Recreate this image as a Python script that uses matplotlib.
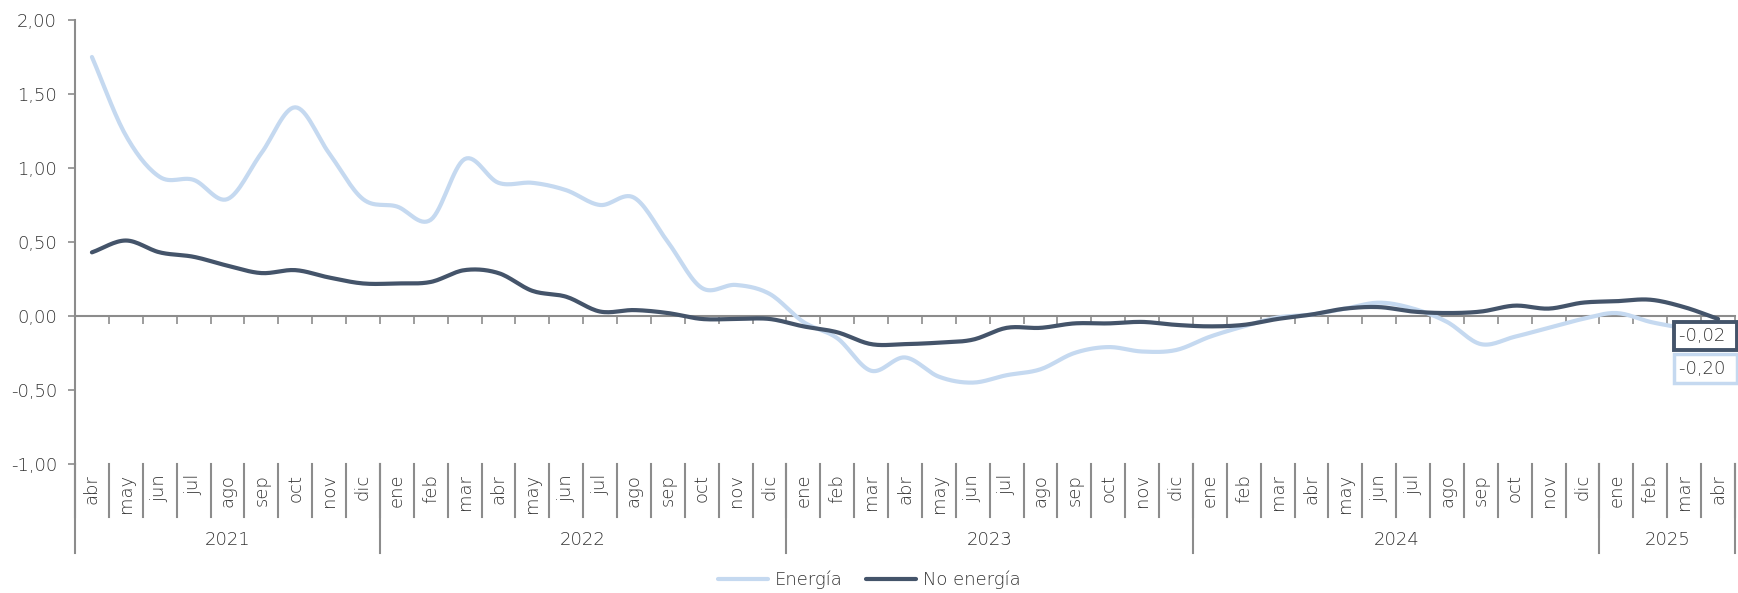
import numpy as np
import matplotlib
matplotlib.use("Agg")
import matplotlib.pyplot as plt
from matplotlib.transforms import blended_transform_factory

plt.rcParams['font.family'] = ['DejaVu Sans']
plt.rcParams['font.weight'] = 'light'

months = ["abr", "may", "jun", "jul", "ago", "sep", "oct", "nov", "dic",
          "ene", "feb", "mar", "abr", "may", "jun", "jul", "ago", "sep", "oct", "nov", "dic",
          "ene", "feb", "mar", "abr", "may", "jun", "jul", "ago", "sep", "oct", "nov", "dic",
          "ene", "feb", "mar", "abr", "may", "jun", "jul", "ago", "sep", "oct", "nov", "dic",
          "ene", "feb", "mar", "abr"]
years = ["2021", "2022", "2023", "2024", "2025"]
months_per_year = [9, 12, 12, 12, 4]

energia = [1.75, 1.22, 0.94, 0.92, 0.79, 1.10, 1.41, 1.10, 0.79,
           0.74, 0.65, 1.06, 0.90, 0.90, 0.85, 0.75, 0.80, 0.50, 0.19, 0.21, 0.15,
           -0.04, -0.15, -0.37, -0.28, -0.41, -0.45, -0.40, -0.36, -0.25, -0.21, -0.24, -0.23,
           -0.14, -0.07, -0.01, 0.01, 0.05, 0.09, 0.05, -0.04, -0.19, -0.14, -0.08, -0.02,
           0.02, -0.04, -0.09, -0.20]
no_energia = [0.43, 0.51, 0.43, 0.40, 0.34, 0.29, 0.31, 0.26, 0.22,
              0.22, 0.23, 0.31, 0.29, 0.17, 0.13, 0.03, 0.04, 0.02, -0.02, -0.02, -0.02,
              -0.07, -0.11, -0.19, -0.19, -0.18, -0.16, -0.08, -0.08, -0.05, -0.05, -0.04, -0.06,
              -0.07, -0.06, -0.02, 0.01, 0.05, 0.06, 0.03, 0.02, 0.03, 0.07, 0.05, 0.09,
              0.10, 0.11, 0.06, -0.02]

C_EN = "#c5d9f0"
C_NO = "#44546a"
TXT = "#333333"
GRID = "#8c8c8c"
FS = 13


def smooth(x, y, n=16):
    """Catmull-Rom spline through the points (line-smoothing render style)."""
    x = np.asarray(x, float)
    y = np.asarray(y, float)
    px = np.concatenate([[2 * x[0] - x[1]], x, [2 * x[-1] - x[-2]]])
    py = np.concatenate([[2 * y[0] - y[1]], y, [2 * y[-1] - y[-2]]])
    xs, ys = [], []
    t = np.linspace(0, 1, n, endpoint=False)
    for i in range(1, len(px) - 2):
        for arr, out in ((px, xs), (py, ys)):
            p0, p1, p2, p3 = arr[i - 1], arr[i], arr[i + 1], arr[i + 2]
            out.extend(0.5 * ((2 * p1) + (-p0 + p2) * t +
                              (2 * p0 - 5 * p1 + 4 * p2 - p3) * t ** 2 +
                              (-p0 + 3 * p1 - 3 * p2 + p3) * t ** 3))
    xs.append(x[-1])
    ys.append(y[-1])
    return np.array(xs), np.array(ys)


fig = plt.figure(figsize=(17.38, 5.93), dpi=100)
ax = fig.add_axes([75 / 1738, 1 - 464 / 593, 1660 / 1738, 444 / 593])

x = np.arange(len(months))
sx, sy = smooth(x, energia)
ax.plot(sx, sy, color=C_EN, lw=3.0, solid_capstyle='round', label="Energía", zorder=3)
sx, sy = smooth(x, no_energia)
ax.plot(sx, sy, color=C_NO, lw=3.0, solid_capstyle='round', label="No energía", zorder=4)

ax.set_xlim(-0.5, len(months) - 0.5)
ax.set_ylim(-1.0, 2.0)
yt = np.arange(-1.0, 2.01, 0.5)
ax.set_yticks(yt)
ax.set_yticklabels([f"{v:.2f}".replace(".", ",") for v in yt], fontsize=FS, color=TXT)
ax.tick_params(axis='y', length=5, width=1.2, color=GRID, pad=8)

ax.spines['top'].set_visible(False)
ax.spines['right'].set_visible(False)
ax.spines['left'].set_color(GRID)
ax.spines['left'].set_linewidth(1.5)
ax.spines['bottom'].set_position(('data', 0))
ax.spines['bottom'].set_color(GRID)
ax.spines['bottom'].set_linewidth(1.5)
ax.set_xticks(np.arange(-0.5, len(months), 1.0))
ax.set_xticklabels([])
ax.tick_params(axis='x', direction='out', length=6, width=1.2, color=GRID)

trans = blended_transform_factory(ax.transData, ax.transAxes)
for i, m in enumerate(months):
    ax.text(i, -0.022, m, rotation=90, ha='center', va='top', fontsize=FS,
            color=TXT, transform=trans, clip_on=False)
for i in range(len(months) + 1):
    ax.plot([i - 0.5, i - 0.5], [0, -0.119], color=GRID, lw=1.5,
            transform=trans, clip_on=False)

bounds = [-0.5]
for n in months_per_year:
    bounds.append(bounds[-1] + n)
for b in bounds:
    ax.plot([b, b], [0, -0.2], color=GRID, lw=1.5, transform=trans, clip_on=False)
for yr, a, b in zip(years, bounds[:-1], bounds[1:]):
    ax.text((a + b) / 2, -0.171, yr, ha='center', va='center', fontsize=FS,
            color=TXT, transform=trans, clip_on=False)

last = len(months) - 1
ax.annotate(f"{no_energia[-1]:.2f}".replace(".", ",") + " ", xy=(last, no_energia[-1]),
            xytext=(-39, -8), textcoords='offset pixels', ha='left', va='top',
            fontsize=FS, color=TXT, annotation_clip=False, zorder=6,
            bbox=dict(boxstyle='square,pad=0.3', fc='white', ec=C_NO, lw=2.8))
ax.annotate(f"{energia[-1]:.2f}".replace(".", ",") + " ", xy=(last, energia[-1]),
            xytext=(-39, -14), textcoords='offset pixels', ha='left', va='top',
            fontsize=FS, color=TXT, annotation_clip=False, zorder=5,
            bbox=dict(boxstyle='square,pad=0.3', fc='white', ec=C_EN, lw=2.5))

fig.legend(loc='center', bbox_to_anchor=(0.5, 1 - 580 / 593), ncol=2, frameon=False,
           fontsize=FS, handlelength=2.8, handletextpad=0.35, columnspacing=1.3,
           labelcolor=TXT)

fig.savefig("out.png", dpi=100)
